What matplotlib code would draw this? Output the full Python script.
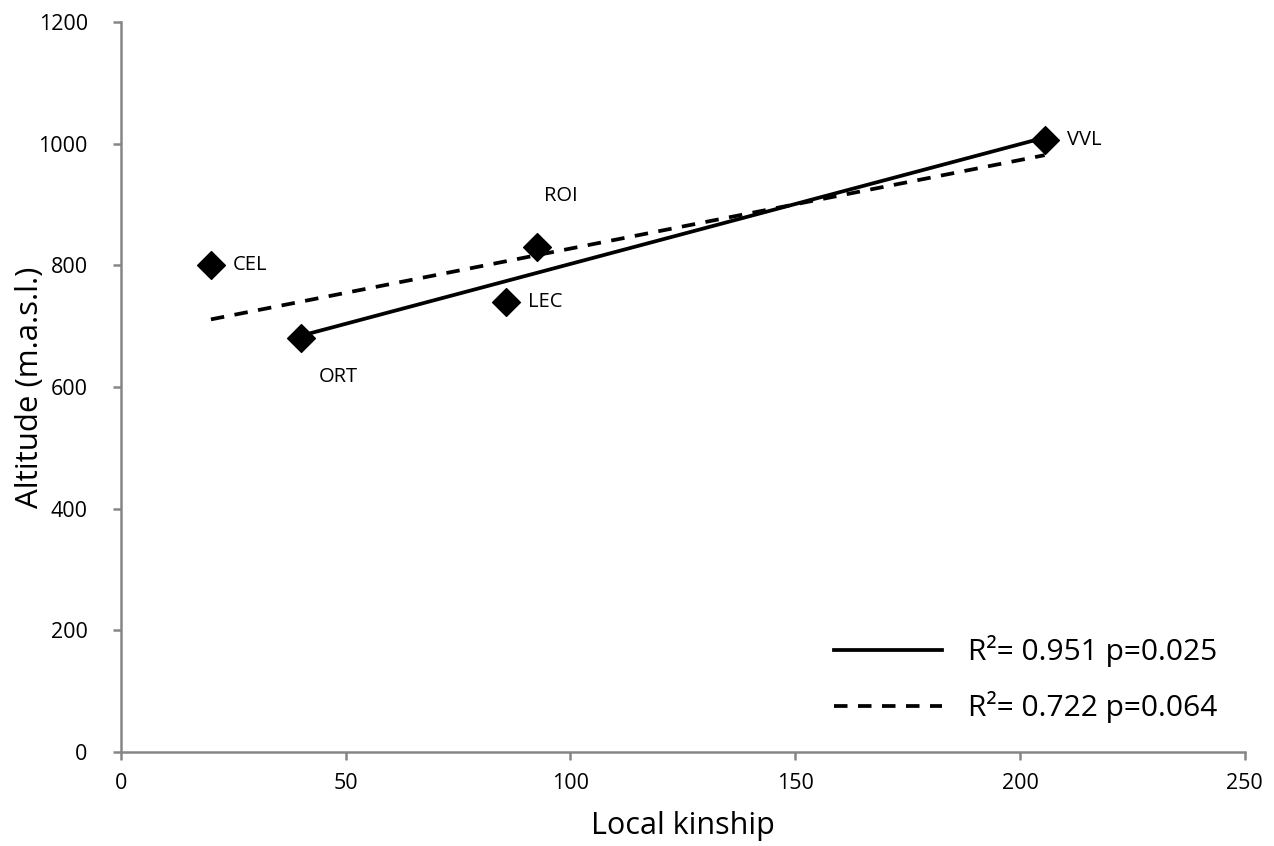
import numpy as np
import matplotlib
matplotlib.use("Agg")
import matplotlib.pyplot as plt

plt.rcParams['font.family'] = ['Open Sans', 'DejaVu Sans']

sites = ["CEL", "ORT", "LEC", "ROI", "VVL"]
kinship = [20, 40, 85.6, 92.5, 205.5]
altitude = [800, 680, 740, 830, 1006]
# solid fit excludes CEL; dashed fit uses all sites
solid_sites = ["ORT", "LEC", "ROI", "VVL"]
legend_labels = ["R²= 0.951 p=0.025", "R²= 0.722 p=0.064"]
label_offsets = {"CEL": (22, 0), "ORT": (18, -39), "LEC": (22, 0), "ROI": (24, 51), "VVL": (22, 0)}

fig = plt.figure(figsize=(12.74, 8.46), dpi=100)
ax = fig.add_axes([0.095, 0.111, 0.882, 0.863])

x = np.array(kinship)
y = np.array(altitude)
mask = np.array([s in solid_sites for s in sites])

ps = np.polyfit(x[mask], y[mask], 1)
xs = np.array([x[mask].min(), x[mask].max()])
ax.plot(xs, np.polyval(ps, xs), color='black', lw=2.7, label=legend_labels[0], zorder=2)

pd_ = np.polyfit(x, y, 1)
xd = np.array([x.min(), x.max()])
ax.plot(xd, np.polyval(pd_, xd), color='black', lw=2.7, ls=(0, (3.6, 2.8)), label=legend_labels[1], zorder=2)

ax.scatter(x, y, marker='D', s=200, color='black', zorder=3)

for s, xi, yi in zip(sites, x, y):
    dx, dy = label_offsets[s]
    ha = 'center' if s == "ROI" else 'left'
    ax.annotate(s, (xi, yi), xytext=(dx, dy), textcoords='offset pixels',
                ha=ha, va='center', fontsize=14.5)

ax.set_xlim(0, 250)
ax.set_ylim(0, 1200)
ax.set_xticks([0, 50, 100, 150, 200, 250])
ax.set_yticks([0, 200, 400, 600, 800, 1000, 1200])
for sp in ['top', 'right']:
    ax.spines[sp].set_visible(False)
for sp in ['left', 'bottom']:
    ax.spines[sp].set_color('#868686')
    ax.spines[sp].set_linewidth(1.8)
ax.tick_params(axis='both', colors='#868686', length=6, width=1.8, labelcolor='black', labelsize=15.5)
ax.tick_params(axis='x', pad=9)
ax.tick_params(axis='y', pad=18)

ax.set_xlabel("Local kinship", fontsize=22, labelpad=12)
ax.set_ylabel("Altitude (m.a.s.l.)", fontsize=22.5, va='center')
ax.yaxis.set_label_coords(-0.081, 0.5)

leg = ax.legend(loc='lower right', bbox_to_anchor=(1.0, 0.003), frameon=False, fontsize=21.5,
                handlelength=3.6, handletextpad=0.9, labelspacing=0.8)

fig.savefig("out.png", dpi=100)
